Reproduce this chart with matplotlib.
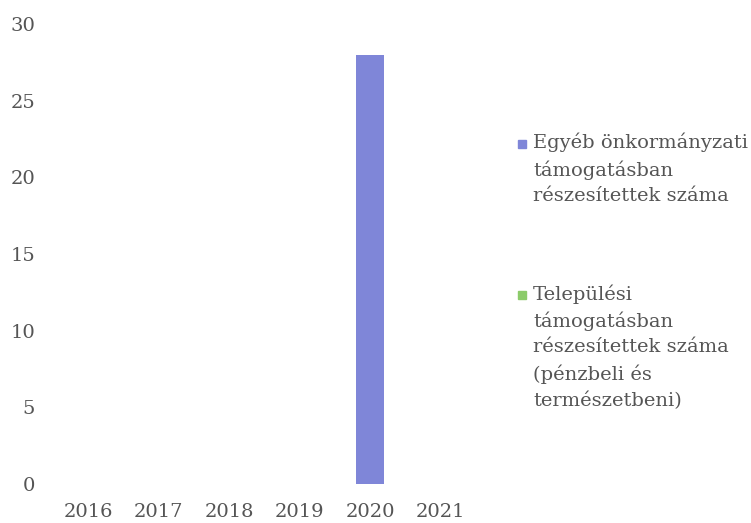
import matplotlib.pyplot as plt
from matplotlib.patches import Rectangle

# --------------------------------------------------
# adatok

years = ['2016', '2017', '2018', '2019', '2020', '2021']
egyeb = [0, 0, 0, 0, 28, 0]
telepulesi = [0, 0, 0, 0, 0, 0]
series_names = ['Egyéb önkormányzati\ntámogatásban\nrészesítettek száma',
                'Települési\ntámogatásban\nrészesítettek száma\n(pénzbeli és\ntermészetbeni)']
colors = ['#7f86d8', '#8ccb6a']
y_ticks = [0, 5, 10, 15, 20, 25, 30]

# --------------------------------------------------
# rajz

plt.rcParams['font.family'] = ['DejaVu Serif']
text_color = '#555555'

fig = plt.figure(figsize=(7.51, 5.23), dpi=100)
ax = fig.add_axes([0.0706, 0.0746, 0.5634, 0.8795])

x = range(len(years))
ax.bar(x, egyeb, width=0.4, color=colors[0])
ax.bar(x, telepulesi, width=0.4, bottom=egyeb, color=colors[1])

ax.set_xlim(-0.5, len(years) - 0.5)
ax.set_ylim(0, 30)
ax.set_yticks(y_ticks)
ax.set_xticks(list(x))
ax.set_xticklabels(years)
ax.tick_params(length=0, labelsize=14, labelcolor=text_color)
ax.tick_params(axis='y', pad=13)
ax.tick_params(axis='x', pad=14)
for s in ax.spines.values():
    s.set_visible(False)

# jelmagyarázat kézzel
leg_tops = [133, 284]
for name, c, top in zip(series_names, colors, leg_tops):
    fig.text(533 / 751, 1 - top / 523, name, va='top', ha='left',
             fontsize=14, color=text_color, linespacing=1.52)
    fig.patches.append(Rectangle((518 / 751, 1 - (top + 15) / 523),
                                 8 / 751, 8 / 523, color=c,
                                 transform=fig.transFigure, figure=fig))

fig.savefig('out.png', dpi=100)
